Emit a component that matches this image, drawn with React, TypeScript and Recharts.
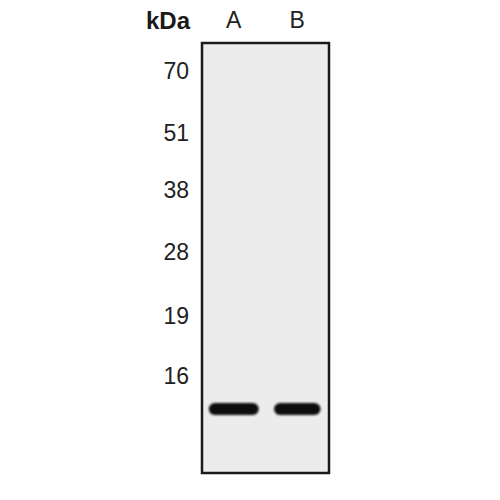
import { ComposedChart, ReferenceArea, Scatter, XAxis, YAxis } from 'recharts'

// Marker ladder (kDa) and where each one runs, as relative migration (0 = well, 1 = gel bottom)
const markerLabels = ['70', '51', '38', '28', '19', '16']
const markerMigration = [0.065, 0.209, 0.342, 0.486, 0.635, 0.774]

// Sample lanes and the single band seen in each
const lanes = ['A', 'B']
const bandMigration = [0.851, 0.851]
const bandIntensity = [1, 0.93]

const bands = lanes.map((lane, i) => ({
  lane,
  rf: bandMigration[i],
  intensity: bandIntensity[i]
}))

const FONT = '"Liberation Sans", Arial, sans-serif'
const BAND_WIDTH = 50
const BAND_HEIGHT = 12

const tickLabel = (value: number) => {
  const i = markerMigration.indexOf(value)
  return i >= 0 ? markerLabels[i] : ''
}

/** Blurred dark blob, width scaled by band intensity. */
function Band(props: any) {
  const { cx, cy, payload } = props
  const w = BAND_WIDTH * (payload?.intensity ?? 1)
  return (
    <rect
      x={cx - w / 2}
      y={cy - BAND_HEIGHT / 2}
      width={w}
      height={BAND_HEIGHT}
      rx={BAND_HEIGHT / 2}
      fill='#0d0d0d'
      filter='url(#bandBlur)'
    />
  )
}

export default function App() {
  return (
    <div style={{ position: 'absolute', left: 0, top: 0, background: '#fff' }}>
      <ComposedChart
        width={500}
        height={500}
        data={bands}
        margin={{ top: 13, right: 171, bottom: 27, left: 0 }}
        style={{ fontFamily: FONT }}
      >
        <defs>
          <filter id='bandBlur' x='-20%' y='-50%' width='140%' height='200%'>
            <feGaussianBlur stdDeviation='1.3' />
          </filter>
        </defs>
        <XAxis
          dataKey='lane'
          type='category'
          scale='band'
          orientation='top'
          height={30}
          axisLine={false}
          tickLine={false}
          tickSize={0}
          tickMargin={15}
          tick={{ fill: '#222', fontSize: 23, fontFamily: FONT }}
        />
        <YAxis
          type='number'
          dataKey='rf'
          domain={[0, 1]}
          reversed
          width={202}
          ticks={markerMigration}
          tickFormatter={tickLabel}
          axisLine={false}
          tickLine={false}
          tickSize={0}
          tickMargin={13}
          interval={0}
          tick={{ fill: '#222', fontSize: 23, fontFamily: FONT }}
          label={{
            content: ({ viewBox }: any) => (
              <text
                x={viewBox.x + viewBox.width - 12}
                y={viewBox.y - 14}
                textAnchor='end'
                fontSize={24}
                fontWeight='bold'
                fontFamily={FONT}
                fill='#1a1a1a'
              >
                kDa
              </text>
            )
          }}
        />
        <ReferenceArea
          y1={0}
          y2={1}
          fill='#ececec'
          fillOpacity={1}
          stroke='#1a1a1a'
          strokeWidth={2.5}
          ifOverflow='visible'
        />
        <Scatter
          dataKey='rf'
          shape={Band}
          isAnimationActive={false}
        />
      </ComposedChart>
    </div>
  )
}
